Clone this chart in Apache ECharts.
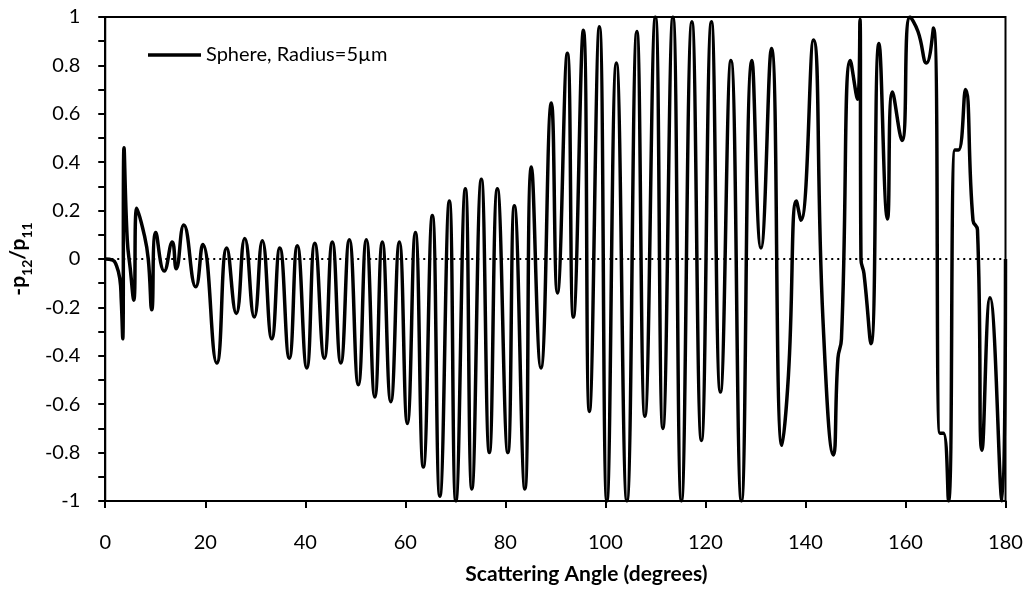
<!DOCTYPE html>
<html>
<head>
<meta charset="utf-8">
<script src="https://cdn.jsdelivr.net/npm/echarts@6/dist/echarts.min.js"></script>
<style>
html,body{margin:0;padding:0;background:#fff;}
#chart{width:1034px;height:590px;}
</style>
</head>
<body>
<div id="chart"></div>
<script>
// Scattering angle (degrees) of each read point
const angles = [
  0, 1.5, 2.2, 2.9, 3.2, 3.5, 3.75, 4.4, 5.0, 5.7, 6.3, 7.8, 8.6, 9.3, 10.1, 11.8, 13.4, 14.2, 15.7, 18.1, 19.5,
  22.3, 24.3, 26.2, 27.9, 29.8, 31.4, 33.3, 34.9, 36.8, 38.4, 40.3, 41.9, 43.8, 45.4, 47.1, 48.8,
  50.6, 52.2, 53.9, 55.4, 57.1, 58.8, 60.4, 62.0, 63.6, 65.4, 66.9, 68.8, 70.1, 72.0, 73.3, 75.2,
  76.8, 78.4, 80.5, 81.8, 83.9, 85.2, 87.1, 89.2, 90.4, 92.4, 93.6, 95.6, 96.8, 98.8, 100.3, 102.2,
  104.3, 106.3, 107.9, 110.0, 111.5, 113.5, 115.2, 117.3, 119.2, 121.2, 123.0, 125.1, 127.2, 129.3,
  131.1, 133.2, 135.3, 136.6, 138.2, 139.1, 141.6, 143.5, 145.6, 146.5, 147.2, 149.0, 150.4, 150.9,
  151.1, 151.7, 153.1, 154.7, 156.4, 157.4, 159.3, 160.9, 162.5, 164.2, 165.6, 166.9, 167.6, 168.6,
  169.9, 170.6, 172.0, 173.5, 174.4, 175.3, 176.9, 179.3, 180
];
// -p12/p11 at each angle
const ratio = [
  0, -0.005, -0.025, -0.08, -0.17, -0.33, 0.46, 0.08, -0.04, -0.17, 0.21, 0.10, 0.0, -0.21, 0.11, -0.05, 0.07, -0.04, 0.14, -0.115, 0.06,
  -0.43, 0.045, -0.225, 0.085, -0.24, 0.075, -0.33, 0.045, -0.41, 0.055, -0.45, 0.065, -0.41, 0.07, -0.43, 0.08,
  -0.52, 0.08, -0.57, 0.07, -0.59, 0.07, -0.68, 0.11, -0.86, 0.18, -0.98, 0.24, -1.0, 0.29, -0.95, 0.33,
  -0.80, 0.29, -0.80, 0.22, -0.95, 0.38, -0.45, 0.645, -0.14, 0.85, -0.24, 0.945, -0.63, 0.96, -1.0, 0.81,
  -1.0, 0.94, -0.65, 1.0, -0.70, 1.0, -1.0, 0.98, -0.75, 0.98, -0.55, 0.82, -1.0, 0.82,
  0.045, 0.87, -0.77, -0.48, 0.24, 0.16, 0.905, -0.25, -0.81, -0.41, -0.33, 0.82, 0.66, 0.99,
  0.0, -0.06, -0.35, 0.89, 0.165, 0.69, 0.49, 1.0, 0.94, 0.81, 0.955, -0.72, -0.72, -1.0,
  0.45, 0.45, 0.70, 0.16, 0.12, -0.79, -0.16, -1.0, 0.0
];
const seriesName = 'Sphere, Radius=5µm';
const xTitle = 'Scattering Angle (degrees)';
const xTicks = [0, 20, 40, 60, 80, 100, 120, 140, 160, 180];
const yTicks = [-1, -0.8, -0.6, -0.4, -0.2, 0, 0.2, 0.4, 0.6, 0.8, 1];

const points = angles.map((a, i) => [a, ratio[i]]);
const FONT = 'Lato';

const chart = echarts.init(document.getElementById('chart'), null, {renderer: 'canvas'});
chart.setOption({
  animation: false,
  backgroundColor: '#fff',
  textStyle: {fontFamily: FONT, color: '#000'},
  grid: {left: 104.5, right: 28.5, top: 17, bottom: 89, show: true, borderColor: '#000', borderWidth: 2, containLabel: false},
  legend: {
    show: true, left: 143, top: 40, itemWidth: 53, itemHeight: 3.5, itemGap: 5,
    icon: 'rect',
    data: [{name: seriesName, icon: 'rect'}],
    itemStyle: {color: '#000', borderWidth: 0},
    textStyle: {fontFamily: FONT, fontSize: 20, color: '#000'},
    selectedMode: false
  },
  xAxis: {
    type: 'value', min: xTicks[0], max: xTicks[xTicks.length - 1], interval: 20,
    name: xTitle, nameLocation: 'middle', nameGap: 63,
    nameTextStyle: {fontFamily: FONT, fontSize: 21, fontWeight: 'bold', color: '#000', padding: [0, 0, 0, 62]},
    axisLine: {show: true, onZero: false, lineStyle: {color: '#000', width: 2}},
    axisTick: {show: true, inside: false, length: 7, lineStyle: {color: '#000', width: 2}},
    axisLabel: {fontFamily: FONT, fontSize: 20, color: '#000', margin: 32},
    splitLine: {show: false}
  },
  yAxis: {
    type: 'value', min: yTicks[0], max: yTicks[yTicks.length - 1], interval: 0.2,
    name: '{a|-p}{b|12}{a|/p}{b|11}', nameLocation: 'middle', nameGap: 72, nameRotate: 90,
    nameTextStyle: {
      rich: {
        a: {fontFamily: FONT, fontSize: 21, fontWeight: 'bold', color: '#000', verticalAlign: 'top', lineHeight: 24},
        b: {fontFamily: FONT, fontSize: 14, fontWeight: 'bold', color: '#000', verticalAlign: 'top', lineHeight: 14, padding: [12, 0, 0, 0]}
      }
    },
    axisLine: {show: true, onZero: false, lineStyle: {color: '#000', width: 2}},
    axisTick: {show: true, inside: false, length: 7, lineStyle: {color: '#000', width: 2}},
    minorTick: {show: true, splitNumber: 2, length: 7, lineStyle: {color: '#000', width: 2}},
    axisLabel: {fontFamily: FONT, fontSize: 20, color: '#000', margin: 25},
    splitLine: {show: false}
  },
  series: [{
    name: seriesName,
    type: 'line',
    data: points,
    smooth: 0.5,
    symbol: 'none',
    showSymbol: false,
    lineStyle: {color: '#000', width: 3.5},
    itemStyle: {color: '#000'},
    clip: true,
    markLine: {
      silent: true, symbol: ['none', 'none'], label: {show: false},
      lineStyle: {color: '#000', width: 2, type: [2, 4]},
      data: [{yAxis: 0}]
    }
  }]
});
</script>
</body>
</html>
